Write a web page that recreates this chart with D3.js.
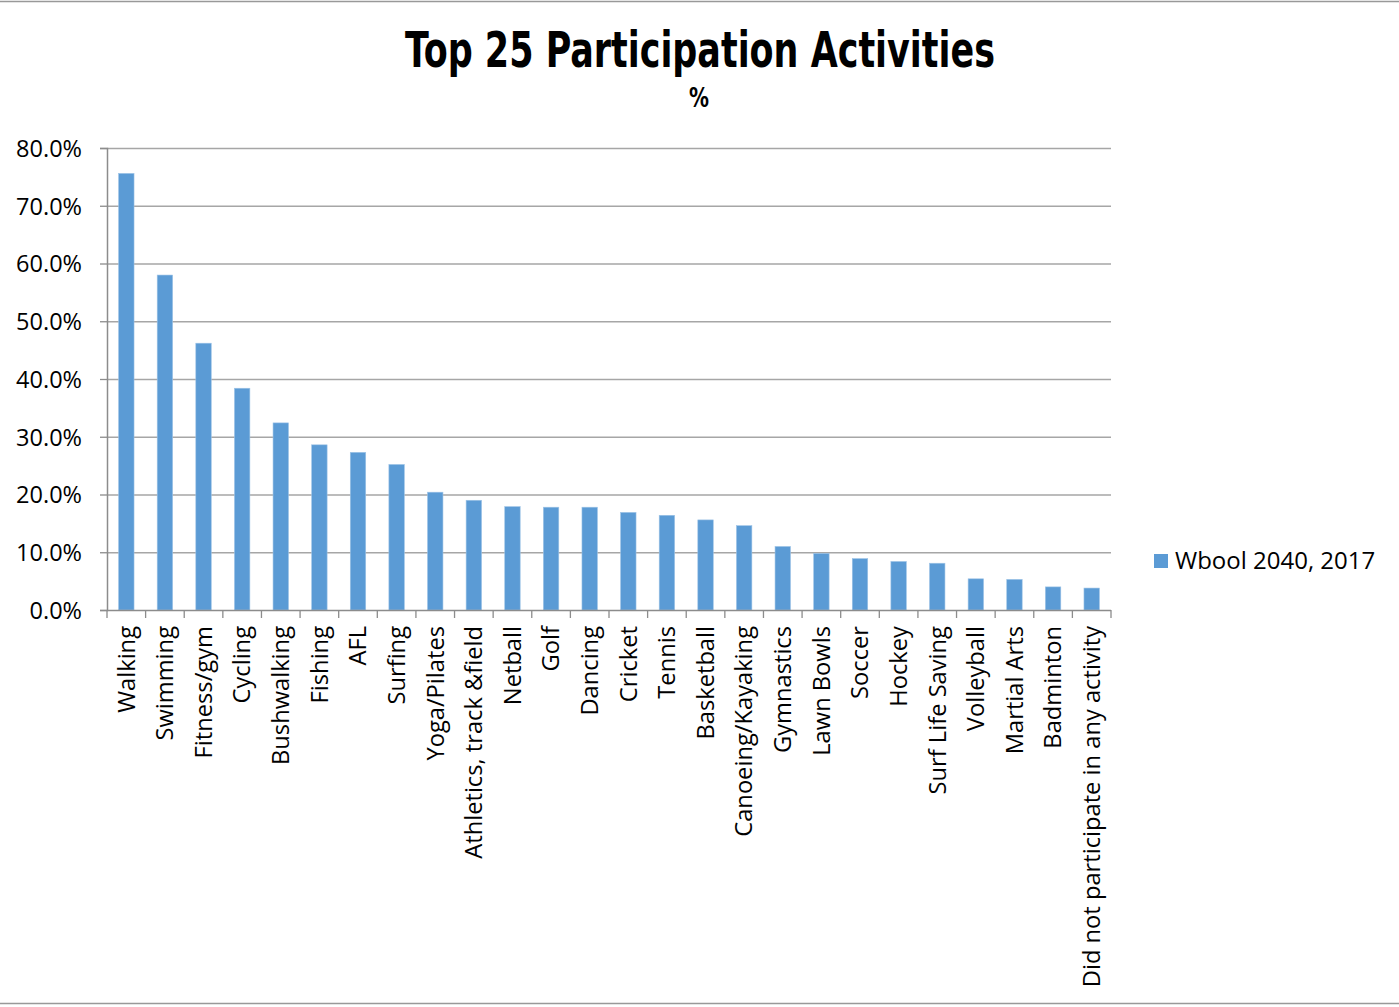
<!DOCTYPE html>
<html><head><meta charset="utf-8">
<script src="https://cdn.jsdelivr.net/npm/d3@7"></script>
<style>body{margin:0;background:#fff;} svg{display:block;}</style>
</head><body>
<script>
const categories = ["Walking","Swimming","Fitness/gym","Cycling","Bushwalking","Fishing","AFL","Surfing","Yoga/Pilates","Athletics, track &field","Netball","Golf","Dancing","Cricket","Tennis","Basketball","Canoeing/Kayaking","Gymnastics","Lawn Bowls","Soccer","Hockey","Surf Life Saving","Volleyball","Martial Arts","Badminton","Did not participate in any activity"];
const values = [75.6,58.0,46.2,38.4,32.4,28.6,27.3,25.2,20.4,19.0,17.9,17.8,17.8,16.9,16.4,15.6,14.6,11.0,9.8,8.9,8.4,8.1,5.4,5.3,4.0,3.8];
const yTicks = [0,10,20,30,40,50,60,70,80];
const seriesName = "Wbool 2040, 2017";
const title = "Top 25 Participation Activities";
const subtitle = "%";

(function(){
const W = 1399, H = 1007;
const pLeft = 107, pRight = 1111, pTop = 148, pBottom = 610;
const svg = d3.select("body").append("svg").attr("width", W).attr("height", H);

svg.append("line").attr("x1",0).attr("x2",W).attr("y1",1.5).attr("y2",1.5).attr("stroke","#999").attr("stroke-width",1.5);
svg.append("line").attr("x1",0).attr("x2",W).attr("y1",1003.5).attr("y2",1003.5).attr("stroke","#999").attr("stroke-width",1.5);

const x = d3.scaleBand().domain(categories).range([pLeft, pRight]).paddingInner(0.6).paddingOuter(0.3);
const y = d3.scaleLinear().domain([0, 80]).range([pBottom, pTop]);

const font = "'Open Sans', 'Noto Sans', sans-serif";

svg.append("g").selectAll("line").data(yTicks.filter(d=>d>0)).join("line")
  .attr("x1", pLeft).attr("x2", pRight).attr("y1", d=>y(d)+0.5).attr("y2", d=>y(d)+0.5)
  .attr("stroke","#a6a6a6").attr("stroke-width",1.3);

const yAxis = d3.axisLeft(y).tickValues(yTicks).tickSize(7).tickFormat(d=>d.toFixed(1)+"%");
const gy = svg.append("g").attr("transform",`translate(${pLeft},0)`).call(yAxis);
gy.select(".domain").attr("stroke","#8c8c8c").attr("stroke-width",1.5);
gy.selectAll(".tick line").attr("stroke","#8c8c8c").attr("stroke-width",1.3);
gy.selectAll(".tick text").attr("font-family",font).attr("font-size",23.5).attr("fill","#000").attr("x",-25).attr("dy","0.36em");

svg.append("g").selectAll("rect").data(categories).join("rect")
  .attr("x", d=>x(d)).attr("width", x.bandwidth())
  .attr("y", (d,i)=>y(values[i])).attr("height", (d,i)=>y(0)-y(values[i]))
  .attr("fill","#5b9bd5").attr("stroke","#9dc3e6").attr("stroke-width",0.6);

const step = x.step();
const gx = svg.append("g").attr("transform",`translate(0,${pBottom})`);
gx.append("line").attr("x1",pLeft).attr("x2",pRight).attr("y1",0.5).attr("y2",0.5).attr("stroke","#8c8c8c").attr("stroke-width",1.5);
const bounds = d3.range(categories.length+1).map(i=>pLeft + i*step);
gx.selectAll("line.tk").data(bounds).join("line").attr("class","tk")
  .attr("x1",d=>d).attr("x2",d=>d).attr("y1",0).attr("y2",8).attr("stroke","#8c8c8c").attr("stroke-width",1.3);
gx.selectAll("text").data(categories).join("text")
  .attr("transform", d=>`translate(${x(d)+x.bandwidth()/2},16) rotate(-90)`)
  .attr("text-anchor","end").attr("dy","0.35em")
  .attr("font-family",font).attr("font-size",23.7).attr("fill","#000").text(d=>d);

svg.append("text").attr("x",700).attr("y",67).attr("text-anchor","middle")
  .attr("font-family","'DejaVu Sans Condensed','Liberation Sans Narrow',sans-serif").attr("font-weight","bold")
  .attr("font-size",50).attr("textLength",590).attr("lengthAdjust","spacingAndGlyphs")
  .attr("fill","#000").text(title);
svg.append("text").attr("x",699).attr("y",107).attr("text-anchor","middle")
  .attr("font-family","'DejaVu Sans Condensed',sans-serif").attr("font-weight","bold")
  .attr("font-size",27).attr("textLength",20).attr("lengthAdjust","spacingAndGlyphs")
  .attr("fill","#000").text(subtitle);

svg.append("rect").attr("x",1154).attr("y",554).attr("width",14).attr("height",14).attr("fill","#5b9bd5");
svg.append("text").attr("x",1175).attr("y",561).attr("dy","0.35em").attr("font-family",font).attr("font-size",24).attr("fill","#000").text(seriesName);
})();
</script>
</body></html>
